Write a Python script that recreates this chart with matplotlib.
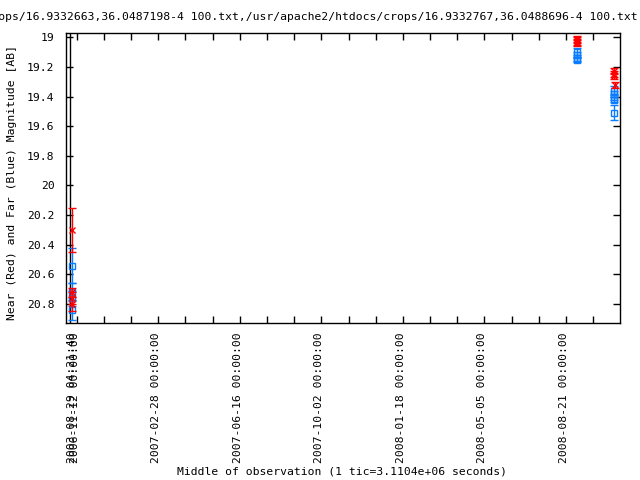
import matplotlib
matplotlib.use("Agg")
import matplotlib.pyplot as plt
import matplotlib.transforms as mtransforms
import numpy as np

# Time axis: days since 2006-11-12 00:00:00 (1 tic = 36 days = 3.1104e+06 s)
tick_days = [0, 108, 216, 324, 432, 540, 648]
tick_labels = ["2006-11-12 00:00:00", "2007-02-28 00:00:00", "2007-06-16 00:00:00",
               "2007-10-02 00:00:00", "2008-01-18 00:00:00", "2008-05-05 00:00:00",
               "2008-08-21 00:00:00"]
start_day = -8.3
start_label_day = -3.0
start_label = "2003-08-29 04:21:40"

# Near (red) magnitudes
red_x = [-6, -6, -6, -6, 663, 663, 663, 663, 711, 711, 711, 713]
red_y = [20.30, 20.72, 20.76, 20.80, 19.01, 19.02, 19.03, 19.04, 19.23, 19.25, 19.26, 19.32]
red_err = [0.15, 0.03, 0.04, 0.05, 0.02, 0.02, 0.02, 0.02, 0.02, 0.02, 0.02, 0.02]

# Far (blue) magnitudes
blue_x = [-6, -6, -6, -6, 663, 663, 663, 663, 711, 711, 711, 711, 711]
blue_y = [20.54, 20.72, 20.76, 20.84, 19.10, 19.12, 19.14, 19.15, 19.36, 19.38, 19.40, 19.42, 19.51]
blue_err = [0.12, 0.06, 0.05, 0.07, 0.03, 0.02, 0.02, 0.02, 0.03, 0.02, 0.02, 0.02, 0.05]

yticks = [19, 19.2, 19.4, 19.6, 19.8, 20, 20.2, 20.4, 20.6, 20.8]

title = ("/usr/apache2/htdocs/crops/16.9332663,36.0487198-4 100.txt,"
         "/usr/apache2/htdocs/crops/16.9332767,36.0488696-4 100.txt")

plt.rcParams['font.family'] = ['DejaVu Sans Mono']
FS = 8.2

fig = plt.figure(figsize=(6.4, 4.8), dpi=100)
ax = fig.add_axes([65.7/640, 1-323/480, (620-65.7)/640, (323-33)/480])

RED = '#ff0000'
BLUE = '#0a7cff'

ax.errorbar(blue_x, blue_y, yerr=blue_err, fmt='s', color=BLUE, mfc='none',
            ms=4, mew=1, elinewidth=1, capsize=3, capthick=1, zorder=3)
ax.errorbar(red_x, red_y, yerr=red_err, fmt='x', color=RED,
            ms=4, mew=1, elinewidth=1, capsize=3, capthick=1, zorder=4)

ax.axvline(start_day, color='black', lw=1, zorder=2)

ax.set_xlim(-14.6, 719.5)
ax.set_ylim(20.928, 18.971)

ax.set_xticks(np.arange(0, 720, 36))
ax.set_xticklabels([])
ax.set_yticks(yticks)
ax.set_yticklabels(['%g' % v for v in yticks], fontsize=FS)
ax.tick_params(direction='in', length=5, width=1, top=True, right=True,
               labelsize=FS, pad=8)

offset = mtransforms.ScaledTranslation(-2/100, 0, fig.dpi_scale_trans)
trans = mtransforms.blended_transform_factory(ax.transData, ax.transAxes) + offset
for d, lab in zip([start_label_day] + tick_days, [start_label] + tick_labels):
    ax.text(d, -9/290, lab, rotation=90, ha='center', va='top',
            fontsize=FS, transform=trans)

for s in ax.spines.values():
    s.set_linewidth(1)

fig.text(12/640, 1-183/480, "Near (Red) and Far (Blue) Magnitude [AB]",
         rotation=90, ha='center', va='center', fontsize=FS)
fig.text(342/640, 1-472/480, "Middle of observation (1 tic=3.1104e+06 seconds)",
         ha='center', va='center', fontsize=FS)
fig.text(638/640, 1-17/480, title, ha='right', va='center', fontsize=FS)

fig.savefig("out.png", dpi=100)
